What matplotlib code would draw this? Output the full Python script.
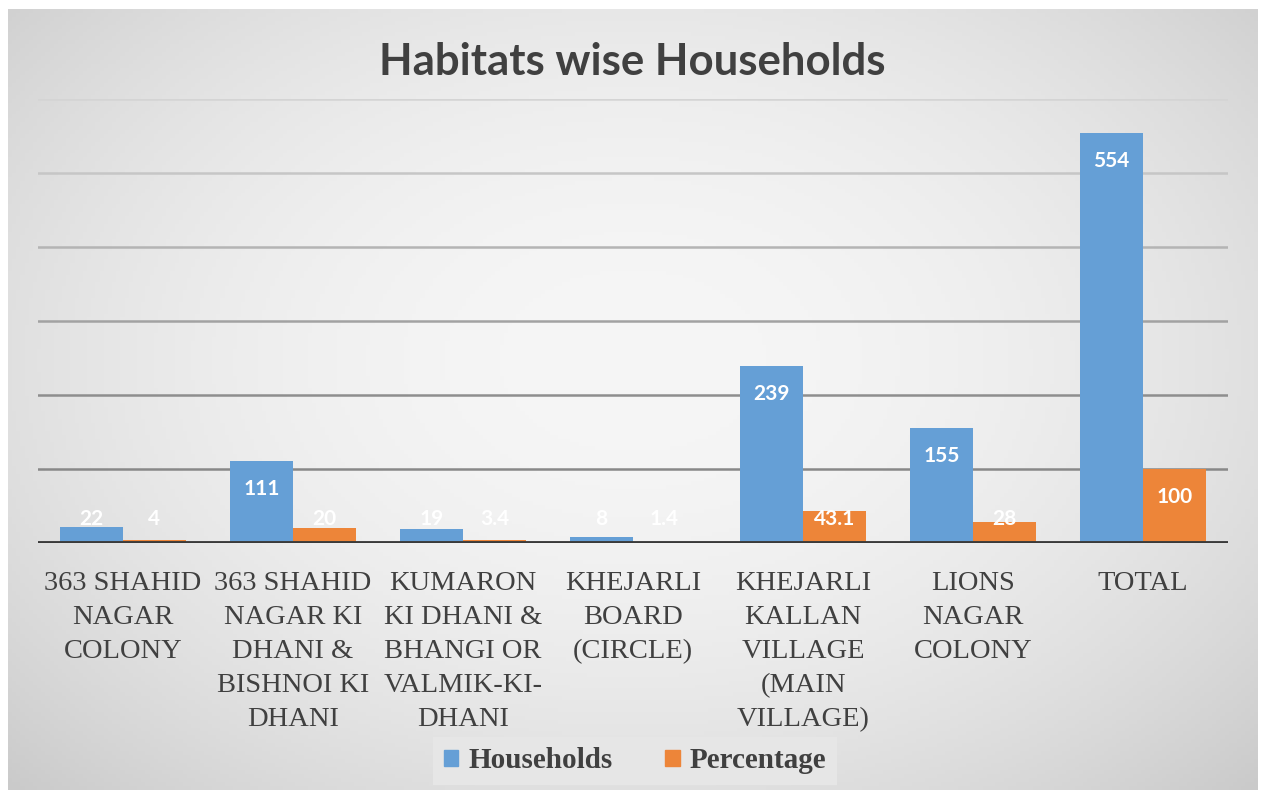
import numpy as np
import matplotlib.pyplot as plt
from matplotlib.patches import Patch

# data
habitats = ["363 SHAHID\nNAGAR\nCOLONY",
            "363 SHAHID\nNAGAR KI\nDHANI &\nBISHNOI KI\nDHANI",
            "KUMARON\nKI DHANI &\nBHANGI OR\nVALMIK-KI-\nDHANI",
            "KHEJARLI\nBOARD\n(CIRCLE)",
            "KHEJARLI\nKALLAN\nVILLAGE\n(MAIN\nVILLAGE)",
            "LIONS\nNAGAR\nCOLONY",
            "TOTAL"]
households = [22, 111, 19, 8, 239, 155, 554]
percentage = [4, 20, 3.4, 1.4, 43.1, 28, 100]
hh_labels = ["22", "111", "19", "8", "239", "155", "554"]
pct_labels = ["4", "20", "3.4", "1.4", "43.1", "28", "100"]
grid_levels = [100, 200, 300, 400, 500, 600]

blue = '#659fd6'
orange = '#ed8539'
text_col = '#404040'
# gridlines fade towards the top in the original
grid_cols = ['#888888', '#8e8e8e', '#a2a2a2', '#b4b4b4', '#c6c6c6', '#d4d4d4']

fig = plt.figure(figsize=(12.64, 7.99), dpi=100)
fig.patch.set_facecolor('white')

# gradient panel behind the chart
bg = fig.add_axes([8/1264, 9/799, 1250/1264, 781/799])
xx, yy = np.meshgrid(np.linspace(0, 1, 300), np.linspace(0, 1, 200))
r2 = ((xx - 0.5) / 0.5) ** 2 + ((yy - 0.45) / 0.55) ** 2
shade = np.clip(246 - 22 * r2, 195, 250) / 255.0
bg.imshow(np.dstack([shade, shade, shade]), aspect='auto', extent=[0, 1, 0, 1])
bg.axis('off')

ax = fig.add_axes([38/1264, 1 - 543/799, 1190/1264, 444/799])
ax.set_facecolor('none')

x = np.arange(len(habitats))
w = 0.37
ax.bar(x - w/2, households, w, color=blue, zorder=3)
ax.bar(x + w/2, percentage, w, color=orange, zorder=3)

ax.set_xlim(-0.5, len(habitats) - 0.5)
ax.set_ylim(0, 600)
ax.set_yticks([])
for lv, c in zip(grid_levels, grid_cols):
    ax.axhline(lv, color=c, linewidth=1.8, zorder=1)
ax.axhline(0, color='#3a3a3a', linewidth=3.5, zorder=4)
for s in ax.spines.values():
    s.set_visible(False)
ax.tick_params(left=False, labelleft=False, bottom=False)
ax.set_xticks(x)
ax.set_xticklabels(habitats, family='Liberation Serif', fontsize=20.5,
                   color=text_col, linespacing=1.47)
ax.tick_params(axis='x', pad=17)

# value labels (inside end, kept above baseline)
for xi, v, lab in zip(x - w/2, households, hh_labels):
    ax.text(xi, max(v - 38, 33), lab, ha='center', va='center', color='white',
            fontsize=15, fontweight='bold', family='Lato', zorder=5)
for xi, v, lab in zip(x + w/2, percentage, pct_labels):
    ax.text(xi, max(v - 38, 33), lab, ha='center', va='center', color='white',
            fontsize=15, fontweight='bold', family='Lato', zorder=5)

fig.text(0.5, 1 - 62/799, "Habitats wise Households", ha='center', va='center',
         fontsize=31.5, fontweight='bold', family='Lato', color=text_col)

handles = [Patch(color=blue, label='Households'), Patch(color=orange, label='Percentage')]
leg = fig.legend(handles=handles, loc='center', bbox_to_anchor=(635/1264, 1 - 761/799),
                 ncol=2, frameon=True, fancybox=False, facecolor='#e6e6e6', edgecolor='none',
                 framealpha=1, handlelength=0.5, handleheight=0.5, handletextpad=0.35,
                 columnspacing=1.8, borderpad=0.35,
                 prop={'family': 'Liberation Serif', 'weight': 'bold', 'size': 21})
for t in leg.get_texts():
    t.set_color(text_col)

fig.savefig('out.png', dpi=100)
